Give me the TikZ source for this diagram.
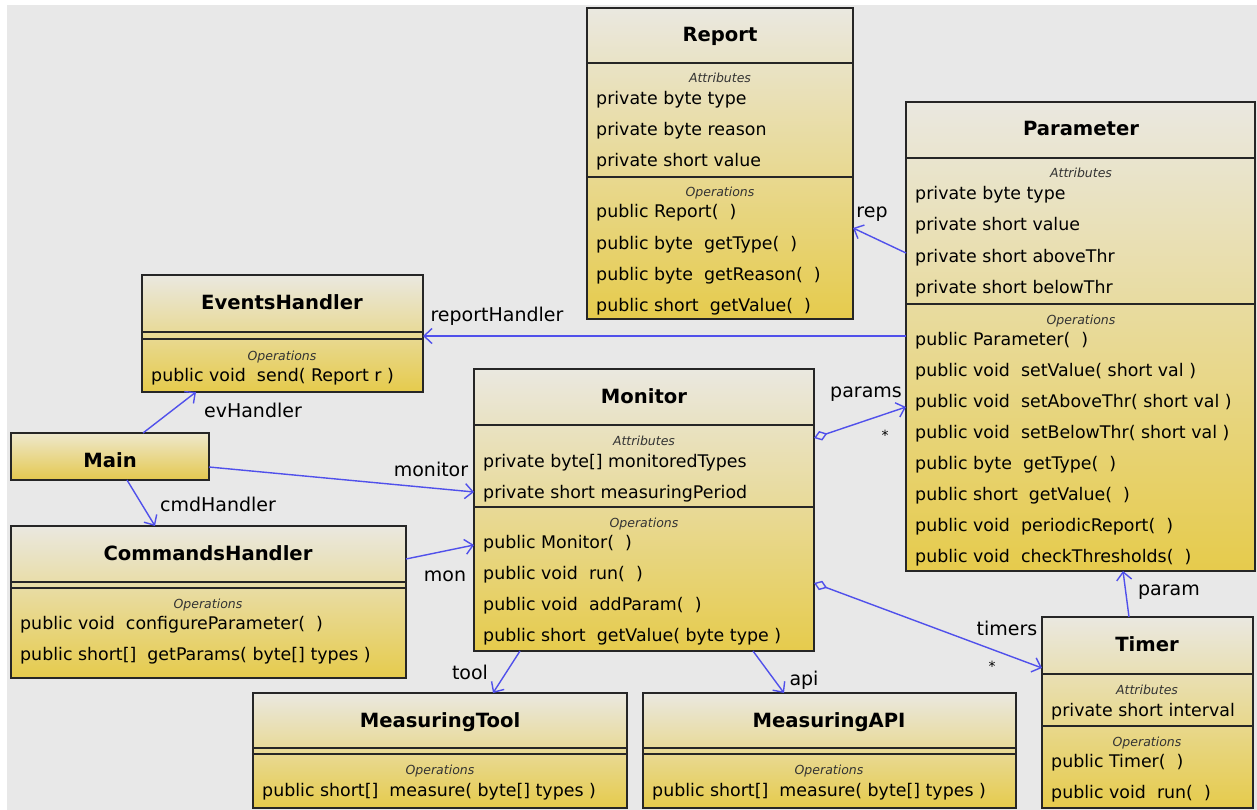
\documentclass[tikz,border=0pt]{standalone}
\usepackage{fontspec}
\setmainfont{DejaVu Sans}
\usetikzlibrary{arrows.meta}
\definecolor{bgc}{RGB}{232,232,232}
\definecolor{ctop}{RGB}{234,232,224}
\definecolor{cbot}{RGB}{230,203,76}
\definecolor{mtop}{RGB}{238,232,205}
\definecolor{mbot}{RGB}{228,200,78}
\definecolor{link}{RGB}{80,80,235}
\newcommand{\dsp}{\ \ }
\tikzset{
 clsbox/.style={draw=black!85, line width=1.4pt, top color=ctop, bottom color=cbot, anchor=north west, inner sep=0pt, outer sep=0pt},
 sepline/.style={draw=black!85, line width=1.4pt},
 ttl/.style={anchor=base, inner sep=0pt, font=\fontsize{19.6}{22}\selectfont\bfseries},
 cmp/.style={anchor=base, inner sep=0pt, font=\fontsize{12.5}{14}\selectfont\itshape, text=black!80},
 mem/.style={anchor=base west, inner sep=0pt, font=\fontsize{17.4}{20}\selectfont},
 lbl/.style={anchor=base, inner sep=0pt, font=\fontsize{19}{22}\selectfont},
 mult/.style={anchor=base, inner sep=0pt, font=\fontsize{14}{16}\selectfont},
 assoc/.style={draw=link, line width=1.4pt, -{Straight Barb[length=8pt,width=15pt]}},
 aggr/.style={draw=link, line width=1.4pt, {Diamond[open,length=14pt,width=10pt]}-{Straight Barb[length=8pt,width=15pt]}},
}
\begin{document}
\begin{tikzpicture}[x=1pt,y=1pt]
\useasboundingbox (0,0) rectangle (1257,-810);
\fill[white] (0,0) rectangle (1257,-810);
\fill[bgc] (7,-5) rectangle (1257,-810);

% ---------- Report ----------
\node[clsbox, minimum width=266pt, minimum height=311pt] (report) at (587,-8) {};
\draw[sepline] (report.west |- 0,-63) -- (report.east |- 0,-63);
\draw[sepline] (report.west |- 0,-177) -- (report.east |- 0,-177);
\node[ttl] (report-t) at (720,-42) {Report};
\node[cmp] (report-ca) at (720,-83) {Attributes};
\foreach \t [count=\i] in {private byte type, private byte reason, private short value}
  \node[mem] (report-a\i) at (596,{-105-31*(\i-1)}) {\t};
\node[cmp] (report-co) at (720,-197) {Operations};
\foreach \t [count=\i] in {public Report(\dsp), public byte\dsp getType(\dsp), public byte\dsp getReason(\dsp), public short\dsp getValue(\dsp)}
  \node[mem] (report-o\i) at (596,{-218-31*(\i-1)}) {\t};

% ---------- Parameter ----------
\node[clsbox, minimum width=349pt, minimum height=469pt] (param) at (906,-102) {};
\draw[sepline] (param.west |- 0,-158) -- (param.east |- 0,-158);
\draw[sepline] (param.west |- 0,-304) -- (param.east |- 0,-304);
\node[ttl] (param-t) at (1081,-136) {Parameter};
\node[cmp] (param-ca) at (1081,-178) {Attributes};
\foreach \t [count=\i] in {private byte type, private short value, private short aboveThr, private short belowThr}
  \node[mem] (param-a\i) at (915,{-200-31*(\i-1)}) {\t};
\node[cmp] (param-co) at (1081,-324) {Operations};
\foreach \t [count=\i] in {public Parameter(\dsp), public void\dsp setValue( short val ), public void\dsp setAboveThr( short val ), public void\dsp setBelowThr( short val ), public byte\dsp getType(\dsp), public short\dsp getValue(\dsp), public void\dsp periodicReport(\dsp), public void\dsp checkThresholds(\dsp)}
  \node[mem] (param-o\i) at (915,{-345-31*(\i-1)}) {\t};

% ---------- EventsHandler ----------
\node[clsbox, minimum width=281pt, minimum height=117pt] (events) at (142,-275) {};
\draw[sepline] (events.west |- 0,-332) -- (events.east |- 0,-332);
\draw[sepline] (events.west |- 0,-339) -- (events.east |- 0,-339);
\node[ttl] (events-t) at (282,-309) {EventsHandler};
\node[cmp] (events-co) at (282,-360) {Operations};
\node[mem] (events-o1) at (151,-381) {public void\dsp send( Report r )};

% ---------- Main ----------
\node[clsbox, top color=mtop, bottom color=mbot, minimum width=198pt, minimum height=47pt] (main) at (11,-433) {};
\node[ttl] (main-t) at (110,-467) {Main};

% ---------- CommandsHandler ----------
\node[clsbox, minimum width=395pt, minimum height=152pt] (cmds) at (11,-526) {};
\draw[sepline] (cmds.west |- 0,-582) -- (cmds.east |- 0,-582);
\draw[sepline] (cmds.west |- 0,-588) -- (cmds.east |- 0,-588);
\node[ttl] (cmds-t) at (208,-560) {CommandsHandler};
\node[cmp] (cmds-co) at (208,-608) {Operations};
\node[mem] (cmds-o1) at (20,-629) {public void\dsp configureParameter(\dsp)};
\node[mem] (cmds-o2) at (20,-660) {public short[]\dsp getParams( byte[] types )};

% ---------- Monitor ----------
\node[clsbox, minimum width=340pt, minimum height=282pt] (monitor) at (474,-369) {};
\draw[sepline] (monitor.west |- 0,-425) -- (monitor.east |- 0,-425);
\draw[sepline] (monitor.west |- 0,-507) -- (monitor.east |- 0,-507);
\node[ttl] (monitor-t) at (644,-403) {Monitor};
\node[cmp] (monitor-ca) at (644,-445) {Attributes};
\node[mem] (monitor-a1) at (483,-467) {private byte[] monitoredTypes};
\node[mem] (monitor-a2) at (483,-498) {private short measuringPeriod};
\node[cmp] (monitor-co) at (644,-527) {Operations};
\foreach \t [count=\i] in {public Monitor(\dsp), public void\dsp run(\dsp), public void\dsp addParam(\dsp), public short\dsp getValue( byte type )}
  \node[mem] (monitor-o\i) at (483,{-548-31*(\i-1)}) {\t};

% ---------- Timer ----------
\node[clsbox, minimum width=211pt, minimum height=191pt] (timer) at (1042,-617) {};
\draw[sepline] (timer.west |- 0,-674) -- (timer.east |- 0,-674);
\draw[sepline] (timer.west |- 0,-726) -- (timer.east |- 0,-726);
\node[ttl] (timer-t) at (1147,-651) {Timer};
\node[cmp] (timer-ca) at (1147,-694) {Attributes};
\node[mem] (timer-a1) at (1051,-716) {private short interval};
\node[cmp] (timer-co) at (1147,-746) {Operations};
\node[mem] (timer-o1) at (1051,-767) {public Timer(\dsp)};
\node[mem] (timer-o2) at (1051,-798) {public void\dsp run(\dsp)};

% ---------- MeasuringTool ----------
\node[clsbox, minimum width=374pt, minimum height=115pt] (tool) at (253,-693) {};
\draw[sepline] (tool.west |- 0,-748) -- (tool.east |- 0,-748);
\draw[sepline] (tool.west |- 0,-754) -- (tool.east |- 0,-754);
\node[ttl] (tool-t) at (440,-727) {MeasuringTool};
\node[cmp] (tool-co) at (440,-774) {Operations};
\node[mem] (tool-o1) at (262,-796) {public short[]\dsp measure( byte[] types )};

% ---------- MeasuringAPI ----------
\node[clsbox, minimum width=373pt, minimum height=115pt] (api) at (643,-693) {};
\draw[sepline] (api.west |- 0,-748) -- (api.east |- 0,-748);
\draw[sepline] (api.west |- 0,-754) -- (api.east |- 0,-754);
\node[ttl] (api-t) at (829,-727) {MeasuringAPI};
\node[cmp] (api-co) at (829,-774) {Operations};
\node[mem] (api-o1) at (652,-796) {public short[]\dsp measure( byte[] types )};

% ---------- Connectors ----------
\draw[assoc] (param.west |- 0,-253) -- (report.east |- 0,-228);
\node[lbl] (l-rep) at (872,-218) {rep};
\draw[assoc] (param.west |- 0,-336) -- (events.east |- 0,-336);
\node[lbl] (l-rh) at (497,-321) {reportHandler};
\draw[assoc] (main.north -| 143,0) -- (events.south -| 196,0);
\node[lbl] (l-ev) at (253,-417) {evHandler};
\draw[assoc] (main.east |- 0,-467) -- (monitor.west |- 0,-492);
\node[lbl] (l-mon) at (431,-476) {monitor};
\draw[assoc] (main.south -| 127,0) -- (cmds.north -| 155,0);
\node[lbl] (l-cmd) at (218,-511) {cmdHandler};
\draw[assoc] (cmds.east |- 0,-559) -- (monitor.west |- 0,-545);
\node[lbl] (l-mn) at (445,-581) {mon};
\draw[aggr] (monitor.east |- 0,-438) -- (param.west |- 0,-407);
\node[lbl] (l-params) at (866,-397) {params};
\node[mult] (m-params) at (885,-440) {*};
\draw[aggr] (monitor.east |- 0,-583) -- (timer.west |- 0,-668);
\node[lbl] (l-timers) at (1007,-635) {timers};
\node[mult] (m-timers) at (992,-671) {*};
\draw[assoc] (monitor.south -| 520,0) -- (tool.north -| 493,0);
\node[lbl] (l-tool) at (470,-679) {tool};
\draw[assoc] (monitor.south -| 753,0) -- (api.north -| 784,0);
\node[lbl] (l-api) at (804,-685) {api};
\draw[assoc] (timer.north -| 1129,0) -- (param.south -| 1123,0);
\node[lbl] (l-param) at (1169,-595) {param};
\end{tikzpicture}
\end{document}
